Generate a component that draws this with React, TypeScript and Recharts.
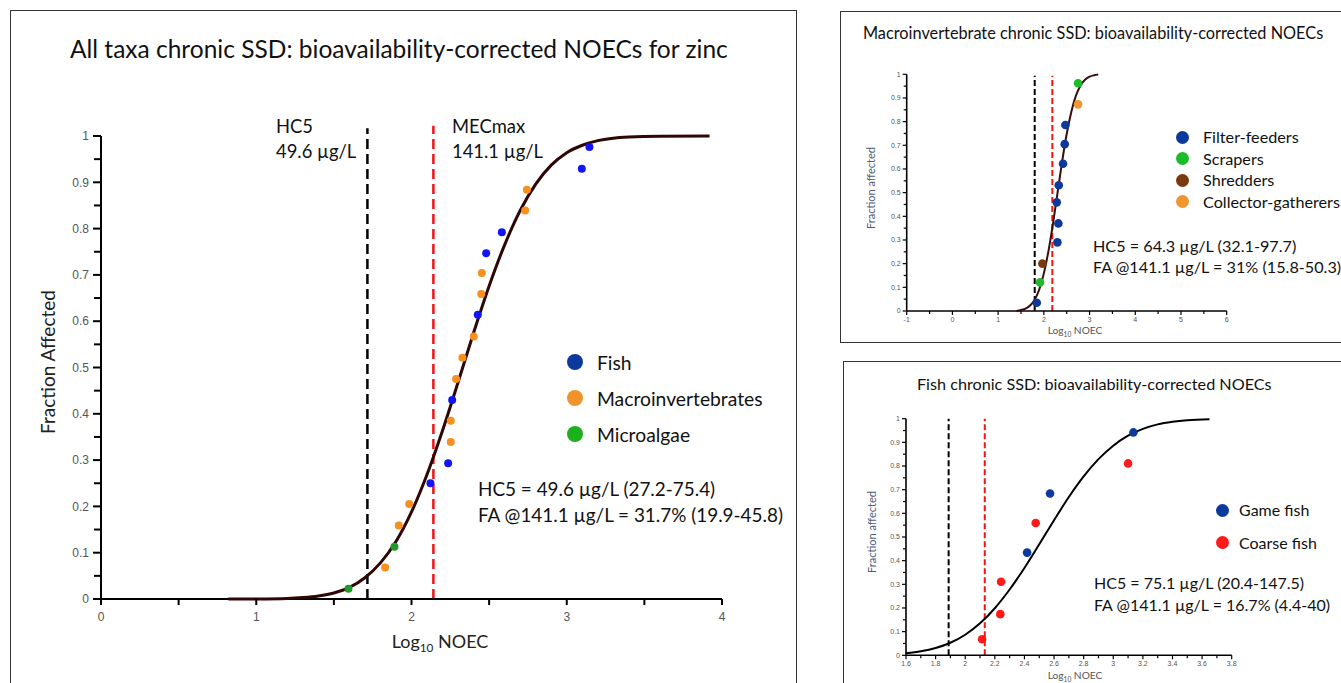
import React from 'react';
import { ScatterChart, Scatter, XAxis, YAxis, ReferenceLine } from 'recharts';

type Pt = { x: number; y: number };

// ---- All taxa panel ----
const allFish: Pt[] = [
  { x: 2.122, y: 0.25 }, { x: 2.236, y: 0.293 }, { x: 2.262, y: 0.43 }, { x: 2.427, y: 0.614 },
  { x: 2.481, y: 0.747 }, { x: 2.582, y: 0.792 }, { x: 3.097, y: 0.929 }, { x: 3.146, y: 0.976 },
];
const allMacro: Pt[] = [
  { x: 1.83, y: 0.068 }, { x: 1.918, y: 0.159 }, { x: 1.985, y: 0.205 }, { x: 2.253, y: 0.339 },
  { x: 2.253, y: 0.385 }, { x: 2.287, y: 0.475 }, { x: 2.328, y: 0.521 }, { x: 2.401, y: 0.567 },
  { x: 2.449, y: 0.659 }, { x: 2.453, y: 0.704 }, { x: 2.732, y: 0.839 }, { x: 2.743, y: 0.884 },
];
const allAlgae: Pt[] = [{ x: 1.594, y: 0.022 }, { x: 1.89, y: 0.113 }];
const allCurve: Pt[] = [
  { x: 0.82, y: 0 }, { x: 1.0, y: 0.0002 }, { x: 1.2, y: 0.0012 }, { x: 1.3, y: 0.003 },
  { x: 1.4, y: 0.0064 }, { x: 1.5, y: 0.013 }, { x: 1.6, y: 0.025 }, { x: 1.7, y: 0.046 },
  { x: 1.8, y: 0.078 }, { x: 1.9, y: 0.124 }, { x: 2.0, y: 0.188 }, { x: 2.1, y: 0.269 },
  { x: 2.2, y: 0.364 }, { x: 2.3, y: 0.468 }, { x: 2.4, y: 0.575 }, { x: 2.5, y: 0.676 },
  { x: 2.6, y: 0.765 }, { x: 2.7, y: 0.839 }, { x: 2.8, y: 0.896 }, { x: 2.9, y: 0.937 },
  { x: 3.0, y: 0.964 }, { x: 3.1, y: 0.98 }, { x: 3.2, y: 0.99 }, { x: 3.4, y: 0.998 },
  { x: 3.6, y: 0.9997 }, { x: 3.92, y: 1 },
];
const allHc5 = 1.716;
const allMec = 2.141;
const allXTicks = [0, 0.5, 1, 1.5, 2, 2.5, 3, 3.5, 4];

// ---- Macroinvertebrate panel ----
const macroFilter: Pt[] = [
  { x: 1.845, y: 0.035 }, { x: 2.296, y: 0.29 }, { x: 2.318, y: 0.37 }, { x: 2.282, y: 0.459 },
  { x: 2.326, y: 0.531 }, { x: 2.42, y: 0.622 }, { x: 2.457, y: 0.705 }, { x: 2.471, y: 0.786 },
];
const macroScrapers: Pt[] = [{ x: 1.917, y: 0.121 }, { x: 2.749, y: 0.962 }];
const macroShredders: Pt[] = [{ x: 1.968, y: 0.2 }];
const macroCollectors: Pt[] = [{ x: 2.749, y: 0.873 }];
const macroCurve: Pt[] = [
  { x: 1.4, y: 0 }, { x: 1.5, y: 0.004 }, { x: 1.6, y: 0.01 }, { x: 1.7, y: 0.023 },
  { x: 1.8, y: 0.048 }, { x: 1.9, y: 0.091 }, { x: 2.0, y: 0.159 }, { x: 2.1, y: 0.252 },
  { x: 2.2, y: 0.369 }, { x: 2.3, y: 0.5 }, { x: 2.4, y: 0.631 }, { x: 2.5, y: 0.748 },
  { x: 2.6, y: 0.841 }, { x: 2.7, y: 0.909 }, { x: 2.8, y: 0.952 }, { x: 2.9, y: 0.977 },
  { x: 3.0, y: 0.99 }, { x: 3.1, y: 0.996 }, { x: 3.19, y: 0.999 },
];
const macroHc5 = 1.8;
const macroMec = 2.186;
const macroXTicks = [-1, -0.5, 0, 0.5, 1, 1.5, 2, 2.5, 3, 3.5, 4, 4.5, 5, 5.5, 6];

// ---- Fish panel ----
const fishGame: Pt[] = [{ x: 2.418, y: 0.434 }, { x: 2.573, y: 0.684 }, { x: 3.136, y: 0.942 }];
const fishCoarse: Pt[] = [
  { x: 2.114, y: 0.068 }, { x: 2.237, y: 0.174 }, { x: 2.242, y: 0.311 },
  { x: 2.476, y: 0.559 }, { x: 3.1, y: 0.811 },
];
const fishCurve: Pt[] = [
  { x: 1.6, y: 0.0085 }, { x: 1.7, y: 0.0167 }, { x: 1.8, y: 0.0306 }, { x: 1.9, y: 0.053 },
  { x: 2.0, y: 0.087 }, { x: 2.1, y: 0.135 }, { x: 2.2, y: 0.199 }, { x: 2.3, y: 0.278 },
  { x: 2.4, y: 0.369 }, { x: 2.5, y: 0.469 }, { x: 2.6, y: 0.571 }, { x: 2.7, y: 0.669 },
  { x: 2.8, y: 0.756 }, { x: 2.9, y: 0.829 }, { x: 3.0, y: 0.886 }, { x: 3.1, y: 0.928 },
  { x: 3.2, y: 0.957 }, { x: 3.3, y: 0.976 }, { x: 3.4, y: 0.987 }, { x: 3.5, y: 0.9936 },
  { x: 3.65, y: 0.998 },
];
const fishHc5 = 1.888;
const fishMec = 2.132;
const fishXTicks = [
  1.6, 1.7, 1.8, 1.9, 2, 2.1, 2.2, 2.3, 2.4, 2.5, 2.6, 2.7, 2.8, 2.9, 3, 3.1, 3.2, 3.3, 3.4, 3.5, 3.6, 3.7, 3.8,
];

const yTicks = [
  0, 0.05, 0.1, 0.15, 0.2, 0.25, 0.3, 0.35, 0.4, 0.45, 0.5, 0.55, 0.6, 0.65, 0.7, 0.75, 0.8, 0.85, 0.9, 0.95, 1,
];

const FONT = 'Lato, "Open Sans", sans-serif';
const TICK_FONT = '"Liberation Sans", Arial, sans-serif';

const fmt = (v: number) => String(Math.round(v * 100) / 100);
const isMult = (v: number, step: number) => Math.abs(v / step - Math.round(v / step)) < 1e-6;

type TickOpts = { side: 'left' | 'bottom'; step: number; major: number; minor: number; gap: number; fs: number; sw: number };

function makeTick(o: TickOpts) {
  return (props: any) => {
    const { x, y, payload } = props;
    const v = payload.value as number;
    const big = isMult(v, o.step);
    const len = big ? o.major : o.minor;
    if (o.side === 'left') {
      return (
        <g>
          <line x1={x} y1={y} x2={x - len} y2={y} stroke="#000" strokeWidth={o.sw} />
          {big && (
            <text x={x - o.major - o.gap} y={y} dy="0.35em" textAnchor="end" fontSize={o.fs} fill="#555" fontFamily={TICK_FONT}>
              {fmt(v)}
            </text>
          )}
        </g>
      );
    }
    return (
      <g>
        <line x1={x} y1={y} x2={x} y2={y + len} stroke="#000" strokeWidth={o.sw} />
        {big && (
          <text x={x} y={y + o.major + o.gap} dy="0.71em" textAnchor="middle" fontSize={o.fs} fill="#555" fontFamily={TICK_FONT}>
            {fmt(v)}
          </text>
        )}
      </g>
    );
  };
}

type Series = { data: Pt[]; color: string; r: number };

type PanelProps = {
  left: number; top: number; width: number; height: number;
  plot: { l: number; r: number; t: number; b: number };
  xDomain: [number, number]; xTicks: number[];
  xTick: TickOpts; yTick: TickOpts; axisWidth: number;
  curve: Pt[]; curveColor: string; curveWidth: number;
  series: Series[];
  hc5: number; mec: number; hc5Top: number; mecTop: number;
  dash: string; refWidth: number;
};

function Panel(p: PanelProps) {
  const xAxisH = 20;
  return (
    <div style={{ position: 'absolute', left: p.left, top: p.top }}>
      <ScatterChart
        width={p.width}
        height={p.height}
        margin={{ top: p.plot.t, right: p.width - p.plot.r, bottom: p.height - p.plot.b - xAxisH, left: 0 }}
      >
        <XAxis
          type="number" dataKey="x" domain={p.xDomain} ticks={p.xTicks} interval={0}
          height={xAxisH} tickSize={0} tickMargin={0} tickLine={false}
          axisLine={{ stroke: '#000', strokeWidth: p.axisWidth }} tick={makeTick(p.xTick)}
        />
        <YAxis
          type="number" dataKey="y" domain={[0, 1]} ticks={yTicks} interval={0}
          width={p.plot.l} tickSize={0} tickMargin={0} tickLine={false}
          axisLine={{ stroke: '#000', strokeWidth: p.axisWidth }} tick={makeTick(p.yTick)}
        />
        <ReferenceLine
          segment={[{ x: p.hc5, y: 0 }, { x: p.hc5, y: p.hc5Top }]}
          stroke="#000" strokeWidth={p.refWidth} strokeDasharray={p.dash} ifOverflow="visible"
        />
        <ReferenceLine
          segment={[{ x: p.mec, y: 0 }, { x: p.mec, y: p.mecTop }]}
          stroke="#f01414" strokeWidth={p.refWidth} strokeDasharray={p.dash} ifOverflow="visible"
        />
        <Scatter
          data={p.curve}
          line={{ stroke: p.curveColor, strokeWidth: p.curveWidth }}
          lineJointType="monotoneX"
          shape={() => <g />}
          isAnimationActive={false}
        />
        {p.series.map((s, i) => (
          <Scatter
            key={i}
            data={s.data}
            isAnimationActive={false}
            shape={(sp: any) => <circle cx={sp.cx} cy={sp.cy} r={s.r} fill={s.color} />}
          />
        ))}
      </ScatterChart>
    </div>
  );
}

const T = (props: { x: number; y: number; fs: number; children: React.ReactNode; color?: string }) => (
  <div
    style={{
      position: 'absolute', left: props.x, top: props.y - props.fs * 0.6, fontSize: props.fs, lineHeight: 1.2,
      fontFamily: FONT, color: props.color || '#111', whiteSpace: 'nowrap',
    }}
  >
    {props.children}
  </div>
);

const Dot = (props: { x: number; y: number; r: number; color: string }) => (
  <div
    style={{
      position: 'absolute', left: props.x - props.r, top: props.y - props.r, width: props.r * 2, height: props.r * 2,
      borderRadius: '50%', background: props.color,
    }}
  />
);

const VLabel = (props: { x: number; y: number; fs: number; color: string; children: React.ReactNode }) => (
  <div
    style={{
      position: 'absolute', left: props.x, top: props.y, transform: 'translate(-50%, -50%) rotate(-90deg)',
      fontSize: props.fs, fontFamily: FONT, color: props.color, whiteSpace: 'nowrap', lineHeight: 1,
    }}
  >
    {props.children}
  </div>
);

const HLabel = (props: { x: number; y: number; fs: number; color: string; children: React.ReactNode }) => (
  <div
    style={{
      position: 'absolute', left: props.x, top: props.y, transform: 'translate(-50%, -50%)',
      fontSize: props.fs, fontFamily: FONT, color: props.color, whiteSpace: 'nowrap', lineHeight: 1,
    }}
  >
    {props.children}
  </div>
);

export default function App() {
  const bigY: TickOpts = { side: 'left', step: 0.1, major: 8, minor: 7, gap: 4, fs: 12, sw: 2 };
  const bigX: TickOpts = { side: 'bottom', step: 1, major: 6, minor: 6, gap: 7, fs: 12, sw: 2 };
  const smallY: TickOpts = { side: 'left', step: 0.1, major: 4, minor: 3, gap: 2, fs: 7, sw: 1.2 };
  const macroX: TickOpts = { side: 'bottom', step: 1, major: 4, minor: 3, gap: 2, fs: 7, sw: 1.2 };
  const fishX: TickOpts = { side: 'bottom', step: 0.2, major: 4, minor: 3, gap: 2, fs: 7, sw: 1.2 };

  return (
    <div style={{ position: 'absolute', left: 0, top: 0, width: 1341, height: 683, overflow: 'hidden', background: '#fff' }}>
      {/* frames */}
      <div style={{ position: 'absolute', left: 10, top: 10, width: 785, height: 700, border: '1.5px solid #333' }} />
      <div style={{ position: 'absolute', left: 840, top: 11, width: 520, height: 330, border: '1.5px solid #333' }} />
      <div style={{ position: 'absolute', left: 843, top: 361, width: 520, height: 340, border: '1.5px solid #333' }} />

      {/* all taxa */}
      <Panel
        left={0} top={0} width={800} height={683}
        plot={{ l: 101, r: 722, t: 136, b: 599 }}
        xDomain={[0, 4]} xTicks={allXTicks} xTick={bigX} yTick={bigY} axisWidth={2}
        curve={allCurve} curveColor="#2e0606" curveWidth={3}
        series={[
          { data: allAlgae, color: '#1f9a2a', r: 4 },
          { data: allMacro, color: '#f7901e', r: 4 },
          { data: allFish, color: '#1414f5', r: 4 },
        ]}
        hc5={allHc5} mec={allMec} hc5Top={1.017} mecTop={1.022} dash="10 5" refWidth={2.5}
      />
      <T x={70} y={49} fs={24.5}>All taxa chronic SSD: bioavailability-corrected NOECs for zinc</T>
      <T x={276} y={126} fs={18.4}>HC5</T>
      <T x={276} y={151} fs={18.4}>49.6 µg/L</T>
      <T x={452} y={126} fs={18.4}>MECmax</T>
      <T x={452} y={151} fs={18.4}>141.1 µg/L</T>
      <Dot x={575} y={362} r={8} color="#0b3a9c" />
      <Dot x={575} y={398} r={8} color="#f0932b" />
      <Dot x={575} y={434} r={8} color="#1db01d" />
      <T x={597} y={363} fs={19.3}>Fish</T>
      <T x={597} y={399} fs={19.3}>Macroinvertebrates</T>
      <T x={597} y={435} fs={19.3}>Microalgae</T>
      <T x={478} y={489} fs={18.9}>HC5 = 49.6 µg/L (27.2-75.4)</T>
      <T x={478} y={515} fs={18.9}>FA @141.1 µg/L = 31.7% (19.9-45.8)</T>
      <VLabel x={47} y={362} fs={19} color="#222">Fraction Affected</VLabel>
      <HLabel x={440} y={643} fs={18} color="#222">
        Log<sub style={{ fontSize: '0.65em' }}>10</sub> NOEC
      </HLabel>

      {/* macroinvertebrates */}
      <Panel
        left={840} top={11} width={501} height={331}
        plot={{ l: 66.7, r: 386.7, t: 63.3, b: 300 }}
        xDomain={[-1, 6]} xTicks={macroXTicks} xTick={macroX} yTick={smallY} axisWidth={1.6}
        curve={macroCurve} curveColor="#3a0c0c" curveWidth={2}
        series={[
          { data: macroFilter, color: '#0b3a9c', r: 4.3 },
          { data: macroScrapers, color: '#1dbb2a', r: 4.3 },
          { data: macroShredders, color: '#7a3a10', r: 4.3 },
          { data: macroCollectors, color: '#f0962e', r: 4.3 },
        ]}
        hc5={macroHc5} mec={macroMec} hc5Top={0.994} mecTop={0.994} dash="6 3" refWidth={2}
      />
      <T x={863} y={33} fs={16.3}>Macroinvertebrate chronic SSD: bioavailability-corrected NOECs</T>
      <Dot x={1182} y={137} r={6.5} color="#0b3a9c" />
      <Dot x={1182} y={158.5} r={6.5} color="#1dbb2a" />
      <Dot x={1182} y={180} r={6.5} color="#7a3a10" />
      <Dot x={1182} y={201.5} r={6.5} color="#f0962e" />
      <T x={1203} y={137} fs={16.2}>Filter-feeders</T>
      <T x={1203} y={158.5} fs={16.2}>Scrapers</T>
      <T x={1203} y={180} fs={16.2}>Shredders</T>
      <T x={1203} y={201.5} fs={16.2}>Collector-gatherers</T>
      <T x={1093} y={246} fs={16.2}>HC5 = 64.3 µg/L (32.1-97.7)</T>
      <T x={1093} y={267} fs={16.2}>FA @141.1 µg/L = 31% (15.8-50.3)</T>
      <VLabel x={870} y={188} fs={11} color="#4b5a78">Fraction affected</VLabel>
      <HLabel x={1075} y={331} fs={10.2} color="#555">
        Log<sub style={{ fontSize: '0.65em' }}>10</sub> NOEC
      </HLabel>

      {/* fish */}
      <Panel
        left={843} top={361} width={498} height={322}
        plot={{ l: 63, r: 388.7, t: 57.7, b: 294.3 }}
        xDomain={[1.6, 3.8]} xTicks={fishXTicks} xTick={fishX} yTick={smallY} axisWidth={1.6}
        curve={fishCurve} curveColor="#000" curveWidth={2}
        series={[
          { data: fishGame, color: '#0b3a9c', r: 4.3 },
          { data: fishCoarse, color: '#ff1a1a', r: 4.3 },
        ]}
        hc5={fishHc5} mec={fishMec} hc5Top={1} mecTop={1} dash="6 3" refWidth={2}
      />
      <T x={917} y={383.5} fs={16.2}>Fish chronic SSD: bioavailability-corrected NOECs</T>
      <Dot x={1222.7} y={510} r={6.5} color="#0b3a9c" />
      <Dot x={1222.7} y={542.7} r={6.5} color="#ff1a1a" />
      <T x={1239} y={510} fs={16}>Game fish</T>
      <T x={1239} y={543} fs={16}>Coarse fish</T>
      <T x={1094} y={583} fs={16}>HC5 = 75.1 µg/L (20.4-147.5)</T>
      <T x={1094} y={605} fs={16}>FA @141.1 µg/L = 16.7% (4.4-40)</T>
      <VLabel x={870.7} y={531.7} fs={11} color="#4b5a78">Fraction affected</VLabel>
      <HLabel x={1075} y={676} fs={10.2} color="#555">
        Log<sub style={{ fontSize: '0.65em' }}>10</sub> NOEC
      </HLabel>
    </div>
  );
}
